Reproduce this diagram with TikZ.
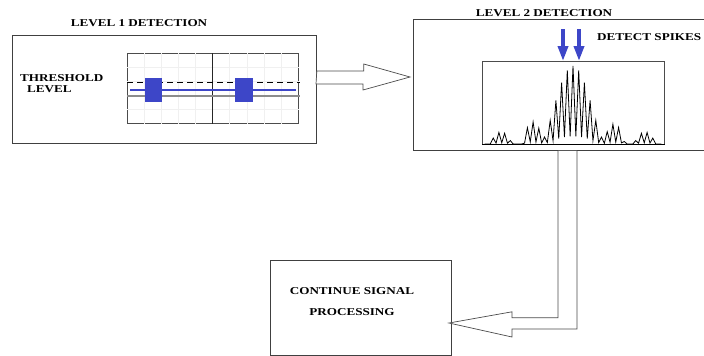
\documentclass[tikz,border=0pt]{standalone}
\usepackage{fontspec}
\setmainfont[FakeStretch=1.25]{Liberation Serif}
\usetikzlibrary{calc}
\usetikzlibrary{positioning}
\usetikzlibrary{arrows.meta}
\definecolor{spikeblue}{HTML}{3D46C8}
\tikzset{
panel/.style={draw=black!75,line width=0.8pt,inner sep=0pt,anchor=north west},
screen/.style={draw=black!70,line width=0.6pt,inner sep=0pt,anchor=north west},
caption/.style={font=\fontsize{10.5}{11}\selectfont\bfseries,inner sep=0pt},
hollow/.style={draw=black!70,line width=0.7pt,fill=white},
}
\tikzset{
	declare function={
		bump(\x,\c,\w) = max(0,1-((\x-\c)/\w)^2);
		sig(\x) = 78*bump(\x,573,34)*bump(\x,573,34) + 22*bump(\x,533,11)
		+ 20*bump(\x,614,11) + 12*bump(\x,501,11) + 12*bump(\x,645,11);
	}
}
\begin{document}
\begin{tikzpicture}[x=1pt,y=-1pt]
\clip (0,0) rectangle (704,356);
%Place the boxes
\node[panel,minimum width=304pt,minimum height=108pt] (lvl1) at (12,35) {};
\node[panel,minimum width=320pt,minimum height=131pt] (lvl2) at (413,19) {};
\node[panel,minimum width=181pt,minimum height=95pt] (cont) at (270,260) {};

\node[caption] (t1) at (139,23) {LEVEL 1 DETECTION};
\node[caption] (t2) at (544,13) {LEVEL 2 DETECTION};
\node[caption,anchor=west] (spk) at (597,37) {DETECT SPIKES};
\node[caption,align=left,anchor=west] (thr) at (20,84) {THRESHOLD\\\hspace{7pt}LEVEL};
\node[caption,align=center] (proc) at (352,302) {CONTINUE SIGNAL\\[10pt]PROCESSING};

%level 1 screen
\node[screen,minimum width=171pt,minimum height=70pt] (scope) at (127,53) {};
\foreach \i in {1,...,9} {
	\draw[black!6] ($(scope.north west)+(17.1*\i,0)$) -- ($(scope.south west)+(17.1*\i,0)$);
}
\foreach \j in {1,...,4} {
	\draw[black!6] ($(scope.north west)+(0,14*\j)$) -- ($(scope.north east)+(0,14*\j)$);
}
\draw[black!85,line width=0.7pt] (scope.north) -- (scope.south);
\draw[black!45,line width=1.4pt] (127,96) -- (300,96);
\draw[dash pattern=on 6pt off 4pt,line width=0.8pt] (127,82) -- (300,82);
\draw[spikeblue,line width=2.4pt] (130,90) -- (296,90);
\fill[spikeblue] (145,78) rectangle (162,102);
\fill[spikeblue] (235,78) rectangle (253,102);

%level 2 plot
\node[screen,minimum width=182pt,minimum height=83pt] (plt) at (482,61) {};
\draw[line width=0.8pt] plot[domain=-31:31,samples=63,variable=\k]
	({573+2.85*\k},{144-sig(573+2.85*\k)*(0.1+0.9*abs(cos(90*\k)))});
\draw[line width=1.3pt] (plt.south west) -- (plt.south east);

\coordinate (a1) at (563,29);
\coordinate (a2) at (579,29);
\draw[spikeblue,line width=3.5pt,-{Triangle[width=10pt,length=15pt]}] (a1) -- (a1 |- plt.north);
\draw[spikeblue,line width=3.5pt,-{Triangle[width=10pt,length=15pt]}] (a2) -- (a2 |- plt.north);

%hollow arrows
\coordinate (tipA) at (410,77);
\draw[hollow] ($(lvl1.north east)+(0,36)$) -- ++(47,0) -- ++(0,-7) -- (tipA)
	-- ++(-47,13) -- ++(0,-6) -- ++(-47,0) -- cycle;

\coordinate (tipB) at (449,323);
\draw[hollow] ($(lvl2.south west)+(145,0)$) -- ++(0,167) -- ++(-46,0) -- ++(0,-6) -- (tipB)
	-- (512,337) -- ++(0,-8) -- ++(65,0) -- ($(lvl2.south west)+(164,0)$);

\end{tikzpicture}
\end{document}
